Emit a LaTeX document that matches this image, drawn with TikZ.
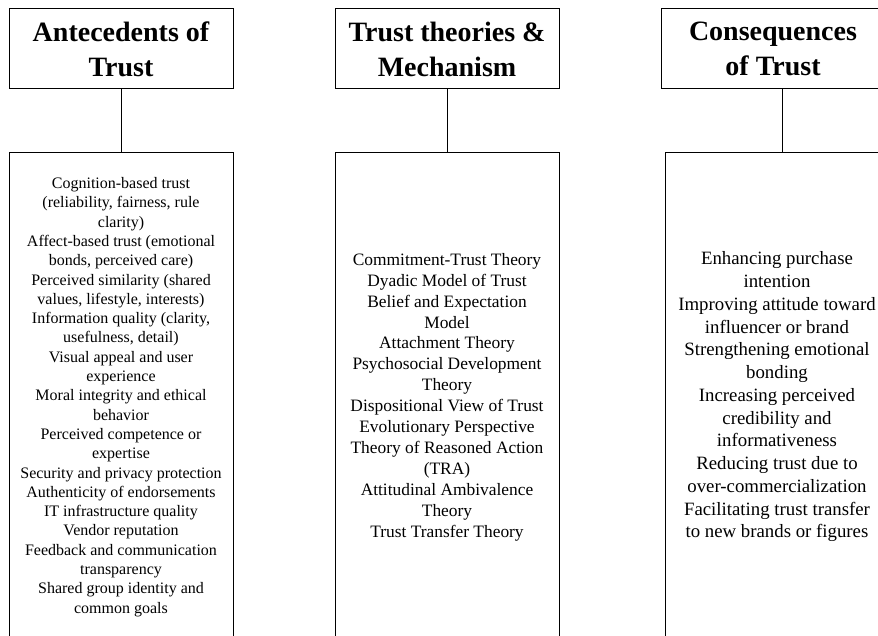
\documentclass[tikz,border=0pt]{standalone}
\usepackage{fontspec}
\setmainfont{Liberation Serif}
\tikzstyle{header box}=[draw, line width=1pt, minimum width=224pt, minimum height=80pt, align=center, inner sep=0pt, font=\bfseries\fontsize{28pt}{35pt}\selectfont]
\tikzstyle{list box}=[draw, line width=1pt, minimum width=224pt, minimum height=488pt, align=center, inner sep=0pt]
\tikzstyle{link}=[line width=1pt]

\begin{document}
\begin{tikzpicture}[x=1pt, y=-1pt]
  \useasboundingbox (0,0) rectangle (878,636);
  \clip (0,0) rectangle (878,636);
  \node[header box] (head ante) at (121,49) {Antecedents of\\Trust};
  \node[header box] (head theo) at (447,49) {Trust theories \&\\Mechanism};
  \node[header box] (head cons) at (773,49) {Consequences\\of Trust};
  \node[list box, font=\fontsize{16pt}{19.3pt}\selectfont] (list ante) at (121,397) {%
    Cognition-based trust\\(reliability, fairness, rule\\clarity)\\
    Affect-based trust (emotional\\bonds, perceived care)\\
    Perceived similarity (shared\\values, lifestyle, interests)\\
    Information quality (clarity,\\usefulness, detail)\\
    Visual appeal and user\\experience\\
    Moral integrity and ethical\\behavior\\
    Perceived competence or\\expertise\\
    Security and privacy protection\\
    Authenticity of endorsements\\
    IT infrastructure quality\\
    Vendor reputation\\
    Feedback and communication\\transparency\\
    Shared group identity and\\common goals};
  \node[list box, font=\fontsize{17.4pt}{20.9pt}\selectfont] (list theo) at (447,397) {%
    Commitment-Trust Theory\\
    Dyadic Model of Trust\\
    Belief and Expectation\\Model\\
    Attachment Theory\\
    Psychosocial Development\\Theory\\
    Dispositional View of Trust\\
    Evolutionary Perspective\\
    Theory of Reasoned Action\\(TRA)\\
    Attitudinal Ambivalence\\Theory\\
    Trust Transfer Theory};
  \node[list box, font=\fontsize{18.8pt}{22.75pt}\selectfont] (list cons) at (777,397) {%
    Enhancing purchase\\intention\\
    Improving attitude toward\\influencer or brand\\
    Strengthening emotional\\bonding\\
    Increasing perceived\\credibility and\\informativeness\\
    Reducing trust due to\\over-commercialization\\
    Facilitating trust transfer\\to new brands or figures};
  \draw[link] (head ante) -- (list ante);
  \draw[link] (head theo) -- (list theo);
  \draw[link] ([xshift=9pt]head cons.south) -- ([xshift=9pt]head cons.south |- list cons.north);
\end{tikzpicture}
\end{document}
